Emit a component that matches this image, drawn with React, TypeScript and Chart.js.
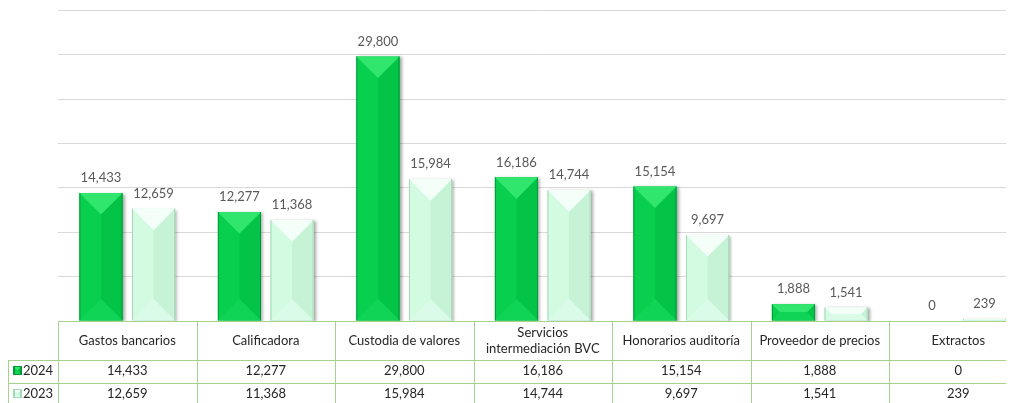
import React, { useEffect, useRef } from "react";
import { Chart, registerables } from "chart.js";

Chart.register(...registerables);

// Expense categories (second one is wrapped onto two lines in the table header)
const categories: string[][] = [
  ["Gastos bancarios"],
  ["Calificadora"],
  ["Custodia de valores"],
  ["Servicios", "intermediación BVC"],
  ["Honorarios auditoría"],
  ["Proveedor de precios"],
  ["Extractos"],
];

const seriesNames = ["2024", "2023"];
const values2024 = [14433, 12277, 29800, 16186, 15154, 1888, 0];
const values2023 = [12659, 11368, 15984, 14744, 9697, 1541, 239];

const FONT = "Lato, 'Open Sans', sans-serif";

type Bevel = { base: string; top: string; bottom: string; right: string; edge: string };

const bevels: Bevel[] = [
  { base: "#08d04e", top: "#30e66d", bottom: "#10d455", right: "#03c447", edge: "#019a38" },
  { base: "#d2fbe2", top: "#f3fff8", bottom: "#dafbe7", right: "#c6f3d6", edge: "#a6d9b8" },
];

const fmt = (v: number) => v.toLocaleString("en-US");

function poly(ctx: CanvasRenderingContext2D, pts: number[][], color: string) {
  ctx.beginPath();
  ctx.moveTo(pts[0][0], pts[0][1]);
  for (let i = 1; i < pts.length; i++) ctx.lineTo(pts[i][0], pts[i][1]);
  ctx.closePath();
  ctx.fillStyle = color;
  ctx.fill();
}

function drawBevelBox(
  ctx: CanvasRenderingContext2D,
  L: number,
  T: number,
  R: number,
  B: number,
  c: Bevel
) {
  if (B - T < 0.5) return;
  const d = Math.min((R - L) / 2, (B - T) / 2);
  poly(ctx, [[R, T], [R - d, T + d], [R - d, B - d], [R, B]], c.right);
  poly(ctx, [[L, T], [R, T], [R - d, T + d], [L + d, T + d]], c.top);
  poly(ctx, [[L, B], [R, B], [R - d, B - d], [L + d, B - d]], c.bottom);
  ctx.strokeStyle = c.edge;
  ctx.lineWidth = 1;
  ctx.beginPath();
  ctx.moveTo(L + 0.5, T);
  ctx.lineTo(L + 0.5, B);
  ctx.moveTo(R - 0.5, T);
  ctx.lineTo(R - 0.5, B);
  ctx.stroke();
}

// Shadow behind the bars
const shadowPlugin = {
  id: "barShadow",
  beforeDatasetsDraw(chart: any) {
    const ctx = chart.ctx;
    ctx.save();
    ctx.shadowColor = "rgba(0,0,0,0.35)";
    ctx.shadowOffsetX = 2;
    ctx.shadowOffsetY = 1;
    ctx.shadowBlur = 3;
  },
  afterDatasetsDraw(chart: any) {
    chart.ctx.restore();
  },
};

// Bevel shading on each bar and value labels above
const bevelPlugin = {
  id: "bevelLabels",
  afterDatasetsDraw(chart: any) {
    const ctx: CanvasRenderingContext2D = chart.ctx;
    chart.data.datasets.forEach((ds: any, di: number) => {
      const meta = chart.getDatasetMeta(di);
      meta.data.forEach((bar: any, i: number) => {
        const p = bar.getProps(["x", "y", "base", "width"], true);
        const L = p.x - p.width / 2;
        const R = p.x + p.width / 2;
        drawBevelBox(ctx, L, p.y, R, p.base, bevels[di]);
        ctx.save();
        ctx.font = `13px ${FONT}`;
        ctx.fillStyle = "#595959";
        ctx.textAlign = "center";
        ctx.textBaseline = "middle";
        ctx.fillText(fmt(ds.data[i]), p.x, p.y - 15);
        ctx.restore();
      });
    });
  },
};

// Data table under the plot area
const tablePlugin = {
  id: "dataTable",
  afterDraw(chart: any) {
    const ctx: CanvasRenderingContext2D = chart.ctx;
    const xs = chart.scales.x;
    const area = chart.chartArea;
    const n = categories.length;
    const cw = (area.right - area.left) / n;
    const top = area.bottom + 0.5;
    const headerBottom = top + 38.5;
    const rowH = 22.5;
    const rowsY = [headerBottom, headerBottom + rowH, headerBottom + 2 * rowH];
    const leftEdge = 0.5;
    const lineColor = "#a6d38c";

    ctx.save();
    ctx.strokeStyle = lineColor;
    ctx.lineWidth = 1;
    ctx.beginPath();
    ctx.moveTo(area.left, top);
    ctx.lineTo(chart.width, top);
    rowsY.forEach((y) => {
      ctx.moveTo(leftEdge, Math.round(y) + 0.5);
      ctx.lineTo(chart.width, Math.round(y) + 0.5);
    });
    for (let i = 0; i <= n; i++) {
      const x = Math.round(area.left + i * cw) + 0.5;
      ctx.moveTo(x, top);
      ctx.lineTo(x, chart.height);
    }
    ctx.moveTo(leftEdge, headerBottom);
    ctx.lineTo(leftEdge, chart.height);
    ctx.stroke();

    ctx.font = `13px ${FONT}`;
    ctx.fillStyle = "#262626";
    ctx.textAlign = "center";
    ctx.textBaseline = "middle";
    categories.forEach((lines, i) => {
      const cx = xs.getPixelForValue(i);
      const mid = (top + headerBottom) / 2;
      const lh = 16;
      lines.forEach((ln, k) => {
        ctx.fillText(ln, cx, mid + (k - (lines.length - 1) / 2) * lh);
      });
    });

    const rows = [values2024, values2023];
    rows.forEach((vals, r) => {
      const cy = rowsY[r] + rowH / 2;
      vals.forEach((v, i) => {
        ctx.fillText(fmt(v), xs.getPixelForValue(i), cy);
      });
      // legend key + series name
      const ky = Math.round(cy - 4);
      ctx.save();
      ctx.fillStyle = bevels[r].base;
      ctx.fillRect(6, ky, 7, 7);
      drawBevelBox(ctx, 6, ky, 13, ky + 7, bevels[r]);
      ctx.strokeStyle = bevels[r].edge;
      ctx.strokeRect(5.5, ky - 0.5, 8, 8);
      ctx.restore();
      ctx.textAlign = "left";
      ctx.fillText(seriesNames[r], 15, cy);
      ctx.textAlign = "center";
    });
    ctx.restore();
  },
};

export default function App() {
  const ref = useRef<HTMLCanvasElement | null>(null);

  useEffect(() => {
    document.documentElement.style.overflow = "hidden";
    document.body.style.overflow = "hidden";
    const canvas = ref.current;
    if (!canvas) return;
    const chart = new Chart(canvas, {
      type: "bar",
      data: {
        labels: categories.map((c) => c.join(" ")),
        datasets: [
          {
            label: seriesNames[0],
            data: values2024,
            backgroundColor: bevels[0].base,
            categoryPercentage: 0.76,
            barPercentage: 0.82,
          },
          {
            label: seriesNames[1],
            data: values2023,
            backgroundColor: bevels[1].base,
            categoryPercentage: 0.76,
            barPercentage: 0.82,
          },
        ],
      },
      options: {
        responsive: false,
        animation: false,
        devicePixelRatio: 1,
        layout: { padding: { left: 50, right: 20.5, top: 2.3, bottom: 87 } },
        plugins: {
          legend: { display: false },
          tooltip: { enabled: false },
        },
        scales: {
          x: { display: false },
          y: {
            display: true,
            min: 0,
            max: 35000,
            ticks: { display: false, stepSize: 5000 },
            border: { display: false },
            grid: { color: "#d9d9d9", drawTicks: false, lineWidth: 1 },
          },
        },
      },
      plugins: [shadowPlugin, bevelPlugin, tablePlugin],
    });
    return () => chart.destroy();
  }, []);

  return (
    <div style={{ width: 1040, height: 400, overflow: "hidden" }}>
      <canvas ref={ref} width={1040} height={400} style={{ display: "block" }} />
    </div>
  );
}
